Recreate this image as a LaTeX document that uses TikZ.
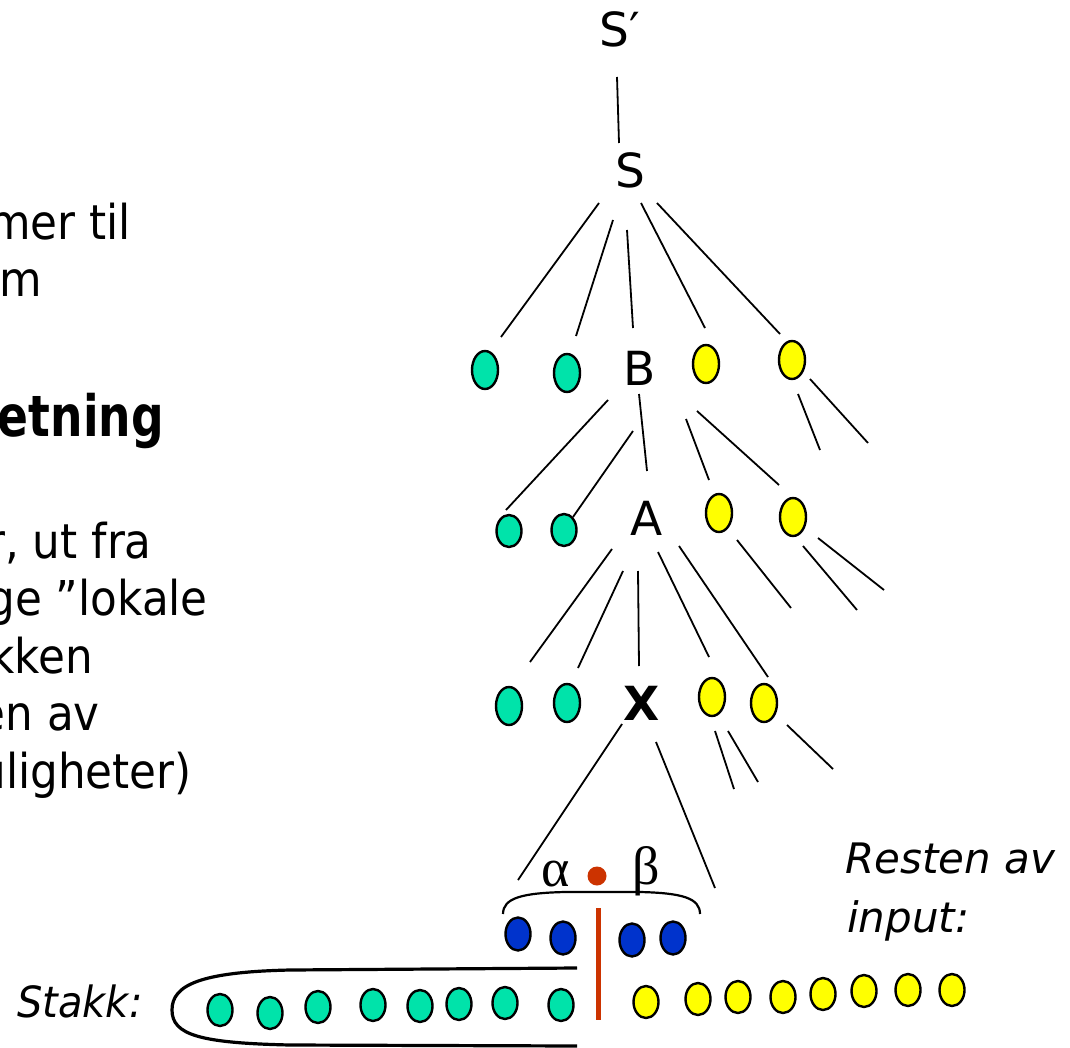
\documentclass[tikz,border=0pt]{standalone}
\usepackage{fontspec}
\usetikzlibrary{shapes.geometric}
\newfontfamily\tah[FakeStretch=0.91]{DejaVu Sans}
\newfontfamily\tahbold[FakeStretch=0.8]{DejaVu Sans Bold}
\newfontfamily\lab{DejaVu Sans}
\newfontfamily\labit[FakeStretch=0.93]{DejaVu Sans Oblique}
\newfontfamily\grk{Liberation Serif}
\definecolor{termgreen}{RGB}{0,227,170}
\definecolor{termyellow}{RGB}{255,255,0}
\definecolor{termblue}{RGB}{0,51,204}
\definecolor{dotred}{RGB}{204,51,0}
% a tree line between two named points, each end shifted from its node centre
\newcommand\tline[4]{\draw[treeline] ([shift={(#2)}]#1.center) -- ([shift={(#4)}]#3.center);}
\begin{document}
\begin{tikzpicture}[x=1pt,y=-1pt,
  ball/.style={ellipse, draw=black, line width=2.4pt, inner sep=0pt, minimum width=26pt, minimum height=38pt},
  gball/.style={ball, fill=termgreen},
  yball/.style={ball, fill=termyellow},
  bball/.style={ball, fill=termblue, minimum width=25pt, minimum height=33pt},
  smallball/.style={minimum width=25pt, minimum height=32pt},
  treeline/.style={line width=1.8pt},
  treelabel/.style={font=\lab\fontsize{47}{56}\selectfont, inner sep=1pt},
  bodytext/.style={font=\tah\fontsize{48}{58}\selectfont, inner sep=0pt, anchor=base east},
  sidetext/.style={font=\lab\itshape\fontsize{42}{50}\selectfont, inner sep=0pt, anchor=base west},
  greek/.style={font=\grk\fontsize{54}{64}\selectfont, inner sep=0pt}
]
\clip (0,0) rectangle (1070,1048);
\fill[white] (0,0) rectangle (1070,1048);

% text running in from the left
\node[bodytext] (t1) at (131,240) {mer til};
\node[bodytext] (t2) at (42,297) {om};
\node[bodytext, font=\tahbold\fontsize{57}{68}\selectfont] (t3) at (164,436) {etning};
\node[bodytext] (t4) at (152,558) {r, ut fra};
\node[bodytext] (t5) at (208,615) {ge ”lokale};
\node[bodytext] (t6) at (93,673) {kken};
\node[bodytext] (t7) at (100,730) {en av};
\node[bodytext] (t8) at (192,788) {uligheter)};

% parse tree: nonterminals
\node[treelabel] (Sp) at (620,29) {S′};
\node[treelabel] (S) at (630,170) {S};
\node[treelabel] (B) at (640,368) {B};
\node[treelabel] (A) at (647,518) {A};
\node[treelabel, font=\lab\bfseries\fontsize{47}{56}\selectfont] (X) at (642,703) {X};

% level under S
\node[gball] (g1) at (485,370) {};
\node[gball] (g2) at (567,373) {};
\node[yball] (y1) at (706,364) {};
\node[yball] (y2) at (792,360) {};
% level under B
\node[gball, smallball] (ga) at (509,531) {};
\node[gball, smallball] (gb) at (564,530) {};
\node[yball] (ya) at (719,513) {};
\node[yball] (yb) at (793,517) {};
% level under A
\node[gball] (gc) at (509,706) {};
\node[gball] (gd) at (567,703) {};
\node[yball] (yc) at (712,697) {};
\node[yball] (yd) at (764,703) {};

% loose ends of unexpanded subtrees
\coordinate (y2a) at (820,450);
\coordinate (y2b) at (868,443);
\coordinate (yaa) at (791,608);
\coordinate (yba) at (857,610);
\coordinate (ybb) at (884,590);
\coordinate (yca) at (734,789);
\coordinate (ycb) at (758,782);
\coordinate (yda) at (833,769);
\coordinate (xl) at (518,880);
\coordinate (xr) at (715,888);

\tline{Sp}{-3,48}{S}{-11,-27}
\tline{S}{-31,33}{g1}{16,-33}
\tline{S}{-17,50}{g2}{9,-37}
\tline{S}{-3,60}{B}{-7,-40}
\tline{S}{11,33}{y1}{-1,-36}
\tline{S}{27,33}{y2}{-12,-26}
\tline{y2}{6,34}{y2a}{0,0}
\tline{y2}{18,19}{y2b}{0,0}

\tline{B}{-32,32}{ga}{-3,-21}
\tline{B}{-7,63}{gb}{9,-13}
\tline{B}{-1,26}{A}{0,-47}
\tline{B}{46,51}{ya}{-10,-33}
\tline{B}{57,43}{yb}{-14,-32}
\tline{ya}{18,27}{yaa}{0,0}
\tline{yb}{10,29}{yba}{0,0}
\tline{yb}{25,21}{ybb}{0,0}

\tline{A}{-35,31}{gc}{21,-44}
\tline{A}{-24,53}{gd}{11,-35}
\tline{A}{-9,53}{X}{-3,-37}
\tline{A}{11,34}{yc}{-3,-40}
\tline{A}{32,28}{yd}{4,-26}
\tline{yc}{3,34}{yca}{0,0}
\tline{yc}{16,34}{ycb}{0,0}
\tline{yd}{23,22}{yda}{0,0}

\tline{X}{-20,21}{xl}{0,0}
\tline{X}{14,39}{xr}{0,0}

% handle alpha . beta
\node[greek] (alpha) at (556,874) {α};
\node[circle, fill=dotred, inner sep=0pt, minimum size=19pt] (dot) at (597,876) {};
\node[greek] (beta) at (646,871) {β};
\draw[line width=2.2pt] (503,914) .. controls (503,898) and (522,893) .. (565,892)
  -- (640,892) .. controls (682,893) and (700,898) .. (700,914);

\node[bball] (b1) at (518,934) {};
\node[bball] (b2) at (563,938) {};
\node[bball] (b3) at (632,940) {};
\node[bball] (b4) at (673,938) {};

% stack outline and the boundary between stack and input
\draw[line width=3.2pt] (577,968) -- (290,970) .. controls (200,972) and (172,985) .. (172,1010)
  .. controls (172,1035) and (200,1043) .. (290,1045) -- (577,1046);
\draw[line width=5pt, dotred] (598,908) -- (598,1020);

\node[sidetext, font=\labit\fontsize{43}{52}\selectfont] (stakk) at (17,1017) {Stakk:};
\node[sidetext] (rest) at (845,873) {Resten av};
\node[sidetext] (inp) at (847,932) {input:};

% stack contents
\node[gball, smallball] (s1) at (220,1010) {};
\node[gball, smallball] (s2) at (270,1013) {};
\node[gball, smallball] (s3) at (318,1007) {};
\node[gball, smallball] (s4) at (373,1005) {};
\node[gball, smallball] (s5) at (420,1006) {};
\node[gball, smallball] (s6) at (459,1004) {};
\node[gball, smallball] (s7) at (505,1003) {};
\node[gball, smallball] (s8) at (561,1005) {};

% remaining input
\node[yball, smallball] (i1) at (646,1002) {};
\node[yball, smallball] (i2) at (698,999) {};
\node[yball, smallball] (i3) at (738,997) {};
\node[yball, smallball] (i4) at (783,997) {};
\node[yball, smallball] (i5) at (823,994) {};
\node[yball, smallball] (i6) at (864,991) {};
\node[yball, smallball] (i7) at (908,990) {};
\node[yball, smallball] (i8) at (952,990) {};
\end{tikzpicture}
\end{document}
